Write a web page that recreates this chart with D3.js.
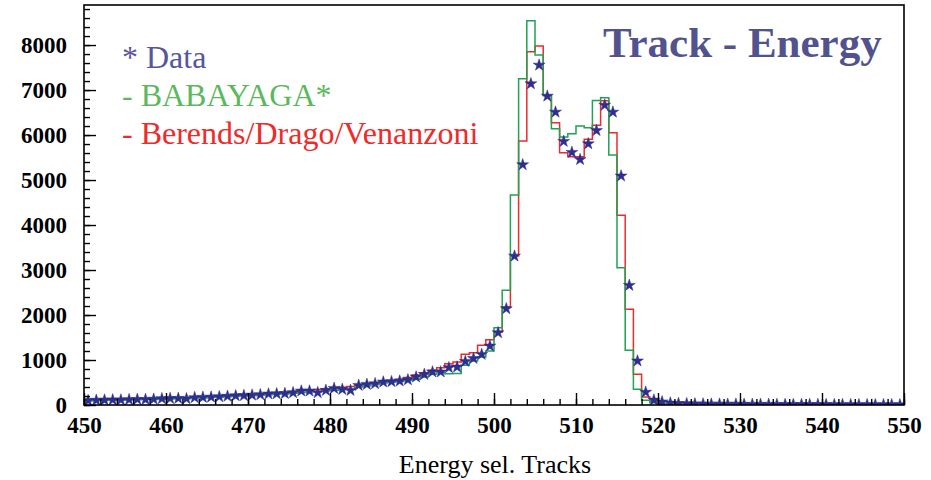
<!DOCTYPE html>
<html>
<head>
<meta charset="utf-8">
<script src="https://cdn.jsdelivr.net/npm/d3@7"></script>
<style>
  body { margin: 0; background: #fff; }
  svg { display: block; }
  .tick text { font-family: "Liberation Serif", "Times New Roman", serif; font-weight: bold; font-size: 23px; fill: #000; }
  .tick line { stroke: #000; stroke-width: 1.4; }
</style>
</head>
<body>
<div id="chart"></div>
<script>
var w = 931;
var h = 480;

// bin low edges, width 1
var binEdges = [450,451,452,453,454,455,456,457,458,459,460,461,462,463,464,465,466,467,468,469,
  470,471,472,473,474,475,476,477,478,479,480,481,482,483,484,485,486,487,488,489,
  490,491,492,493,494,495,496,497,498,499,500,501,502,503,504,505,506,507,508,509,
  510,511,512,513,514,515,516,517,518,519,520,521,522,523,524,525,526,527,528,529,
  530,531,532,533,534,535,536,537,538,539,540,541,542,543,544,545,546,547,548,549];

var dataCounts = [100,105,110,115,112,120,125,122,130,140,145,148,140,165,170,175,185,195,205,210,
  220,230,245,250,255,275,311,311,275,326,370,348,326,437,459,474,511,519,533,560,
  622,681,735,735,830,844,970,1035,1126,1311,1607,2140,3310,5340,7140,7555,6865,6510,5860,5615,
  5455,5805,6100,6665,6510,5090,2660,980,285,111,70,45,35,30,25,22,20,20,18,18,
  16,15,15,14,13,12,12,11,11,10,10,9,9,8,8,8,7,7,7,6];

var babayaga = [90,95,100,105,108,110,115,120,122,128,135,140,140,150,158,165,175,182,192,200,
  208,215,228,238,245,262,280,290,295,310,330,340,345,400,430,455,490,505,520,545,
  570,622,681,719,696,700,881,978,1067,1200,1719,2548,4667,7251,8540,7778,6881,6141,5956,6030,
  6200,6163,6770,6830,5556,3052,1215,348,104,50,30,20,15,12,10,8,8,7,6,6,
  5,5,5,4,4,4,3,3,3,3,2,2,2,2,2,2,1,1,1,1];

var bdv = [105,110,115,118,120,125,130,132,138,145,152,158,162,172,180,190,198,208,218,228,
  238,250,262,272,285,300,318,330,345,360,378,395,412,440,470,490,520,545,570,610,
  667,719,770,830,919,956,1126,1163,1326,1452,1622,2178,3311,5867,7852,7978,6880,6274,5607,5518,
  5518,5904,6215,6760,6052,4215,2126,681,178,90,40,25,18,14,12,10,9,8,7,6,
  6,5,5,5,4,4,4,3,3,3,3,2,2,2,2,2,1,1,1,1];

var xTickLabels = [450,460,470,480,490,500,510,520,530,540,550];
var yTickLabels = [0,1000,2000,3000,4000,5000,6000,7000,8000];

var legendLabels = ["* Data", "- BABAYAGA*", "- Berends/Drago/Venanzoni"];
var legendColors = ["#56569c", "#5cb85c", "#ee2a2a"];
var title = "Track - Energy";
var xTitle = "Energy sel. Tracks";

var frameL = 84, frameR = 904, frameT = 5, frameB = 405;

var svg = d3.select("#chart")
            .append("svg")
            .attr("width", w)
            .attr("height", h);

var x = d3.scaleLinear().domain([450, 550]).range([frameL, frameR]);
var y = d3.scaleLinear().domain([0, 8890]).range([frameB, frameT]);

svg.append("clipPath")
   .attr("id", "frame")
   .append("rect")
   .attr("x", frameL).attr("y", frameT)
   .attr("width", frameR - frameL).attr("height", frameB - frameT);

var plot = svg.append("g").attr("clip-path", "url(#frame)");

// histogram step outline
function stepPath(values) {
    var pts = values.map(function(v, i) { return [binEdges[i], v]; });
    pts.push([binEdges[binEdges.length - 1] + 1, values[values.length - 1]]);
    return d3.line()
             .x(function(d) { return x(d[0]); })
             .y(function(d) { return y(d[1]); })
             .curve(d3.curveStepAfter)(pts);
}

plot.append("path")
    .attr("d", stepPath(bdv))
    .style("fill", "none")
    .style("stroke", "#ee2a2a")
    .style("stroke-width", 1.5);

plot.append("path")
    .attr("d", stepPath(babayaga))
    .style("fill", "none")
    .style("stroke", "#1ea352")
    .style("stroke-width", 1.5);

plot.selectAll("path.star")
    .data(dataCounts)
    .enter()
    .append("path")
    .attr("class", "star")
    .attr("d", d3.symbol().type(d3.symbolStar).size(44))
    .attr("transform", function(d, i) { return "translate(" + x(binEdges[i] + 0.5) + "," + y(d) + ")"; })
    .style("fill", "#2e2e8e")
    .style("stroke", "#2e2e8e")
    .style("stroke-width", 0.5);

// axes: major + minor ticks pointing into the frame
var xMajor = d3.axisBottom(x).tickValues(xTickLabels).tickSizeInner(-12).tickSizeOuter(0).tickPadding(12)
               .tickFormat(d3.format("d"));
var xMinor = d3.axisBottom(x).tickValues(d3.range(450, 551, 2)).tickSizeInner(-6).tickSizeOuter(0).tickFormat("");
var yMajor = d3.axisLeft(y).tickValues(yTickLabels).tickSizeInner(-12).tickSizeOuter(0).tickPadding(17)
               .tickFormat(d3.format("d"));
var yMinor = d3.axisLeft(y).tickValues(d3.range(0, 8890, 200)).tickSizeInner(-6).tickSizeOuter(0).tickFormat("");

[xMinor, xMajor].forEach(function(a) {
    var g = svg.append("g").attr("transform", "translate(0," + frameB + ")").call(a);
    g.select(".domain").remove();
});
[yMinor, yMajor].forEach(function(a) {
    var g = svg.append("g").attr("transform", "translate(" + frameL + ",0)").call(a);
    g.select(".domain").remove();
    g.selectAll("text").attr("dy", "0.34em");
});

svg.append("rect")
   .attr("x", frameL).attr("y", frameT)
   .attr("width", frameR - frameL).attr("height", frameB - frameT)
   .style("fill", "none")
   .style("stroke", "#000")
   .style("stroke-width", 1.6);

svg.selectAll("text.legend")
   .data(legendLabels)
   .enter()
   .append("text")
   .attr("class", "legend")
   .attr("x", 122)
   .attr("y", function(d, i) { return 68 + i * 38; })
   .text(function(d) { return d; })
   .style("font-family", "'Liberation Serif', serif")
   .style("font-size", "32px")
   .style("fill", function(d, i) { return legendColors[i]; });

svg.append("text")
   .attr("x", 603)
   .attr("y", 57)
   .text(title)
   .style("font-family", "'Liberation Serif', serif")
   .style("font-weight", "bold")
   .style("font-size", "43px")
   .style("fill", "#52528e");

svg.append("text")
   .attr("x", 495)
   .attr("y", 473)
   .attr("text-anchor", "middle")
   .text(xTitle)
   .style("font-family", "'Liberation Serif', serif")
   .style("font-size", "26px")
   .style("fill", "#000");
</script>
</body>
</html>
